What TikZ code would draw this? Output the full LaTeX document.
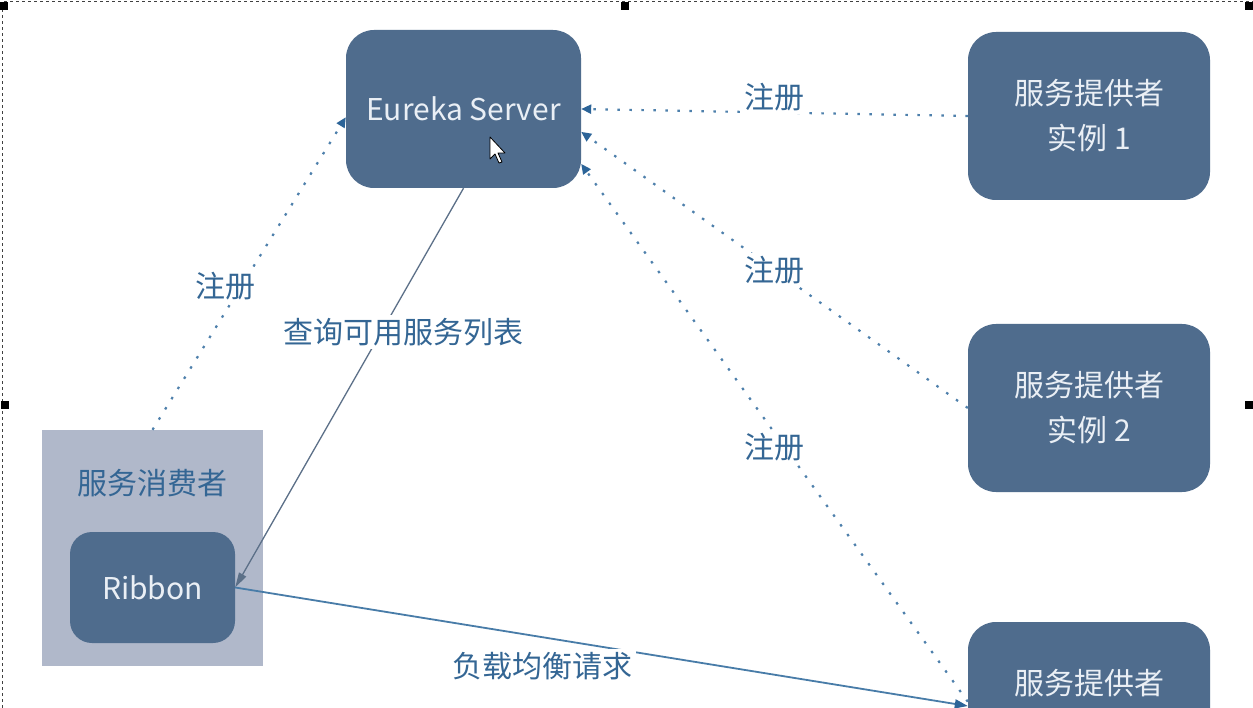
\documentclass[tikz,border=0pt]{standalone}
\usepackage{fontspec}
\setmainfont{Noto Sans CJK SC}
\usepackage{tikz}
\usetikzlibrary{arrows.meta}
\definecolor{boxblue}{RGB}{79,108,141}
\definecolor{boxtext}{RGB}{234,239,245}
\definecolor{consumerbg}{RGB}{176,184,202}
\definecolor{lblblue}{RGB}{52,102,148}
\definecolor{dotblue}{RGB}{78,128,172}
\definecolor{tipblue}{RGB}{44,100,152}
\definecolor{querygrey}{RGB}{92,112,136}
\definecolor{reqblue}{RGB}{72,124,168}

\begin{document}
\begin{tikzpicture}[x=1pt,y=-1pt,
    box/.style={fill=boxblue,rounded corners=28pt,text=boxtext,align=center,
      inner sep=0pt,font=\fontsize{30}{45}\selectfont},
    lbl/.style={fill=white,text=lblblue,inner sep=3pt,font=\fontsize{30}{36}\selectfont},
    reg/.style={-{Triangle[length=10pt,width=9pt,color=tipblue]},color=dotblue,
      line width=2.2pt,dash pattern=on 2.5pt off 9.5pt},
    handle/.style={fill=black,minimum size=8pt,inner sep=0pt}]
    \useasboundingbox (0,0) rectangle (1253,708);
    \clip (0,0) rectangle (1253,708);
    \fill[white] (0,0) rectangle (1253,708);

    \node[box,minimum width=235pt,minimum height=158pt] (eureka) at (463.5,109) {Eureka Server};
    \node[box,minimum width=242pt,minimum height=168pt] (prov1) at (1089,116) {服务提供者\\实例 1};
    \node[box,minimum width=242pt,minimum height=168pt] (prov2) at (1089,408) {服务提供者\\实例 2};
    \node[box,minimum width=242pt,minimum height=168pt] (prov3) at (1089,706) {服务提供者\\\phantom{实例 3}};
    \node[fill=consumerbg,minimum width=221pt,minimum height=236pt] (consumer) at (152.5,548) {};
    \node[text=lblblue,font=\fontsize{30}{36}\selectfont] (consumertitle) at (152.5,483) {服务消费者};
    \node[box,rounded corners=22pt,minimum width=165pt,minimum height=111pt] (ribbon) at (152.5,587.5) {Ribbon};

    \path[reg]
      (prov1.west) edge node[lbl,pos=.5,yshift=15pt]{注册} (eureka.east)
      (prov2.west) edge node[lbl,pos=.5]{注册} (eureka.-11)
      (prov3.178) edge node[lbl,pos=.5,yshift=-14pt]{注册} (eureka.-25.5)
      (consumer.north) edge node[lbl,pos=.46,xshift=-16pt]{注册} (eureka.184);
    \path[-{Triangle[length=15pt,width=8pt]},color=querygrey,line width=1.3pt]
      (eureka.south) edge node[lbl,pos=.36,xshift=22pt]{查询可用服务列表} (ribbon.east);
    \path[-{Triangle[length=13pt,width=9pt,color=tipblue]},color=reqblue,line width=1.8pt]
      (ribbon.east) edge node[lbl,pos=.42,yshift=-29pt]{负载均衡请求} (prov3.west);

    \draw[black!75,line width=1pt,dash pattern=on 3pt off 3pt] (2,708) -- (2,2) -- (1253,2);
    \node[handle] (h1) at (4,6) {};
    \node[handle] (h2) at (625,6) {};
    \node[handle] (h3) at (1249,6) {};
    \node[handle] (h4) at (5,405) {};
    \node[handle] (h5) at (1249,405) {};
    \draw[fill=white,draw=black,line width=0.8pt,line join=round,shift={(490,137)}]
      (0,0) -- (0,22) -- (5,17) -- (9,26) -- (12,25) -- (8,16) -- (15,16) -- cycle;
  \end{tikzpicture}
\end{document}
